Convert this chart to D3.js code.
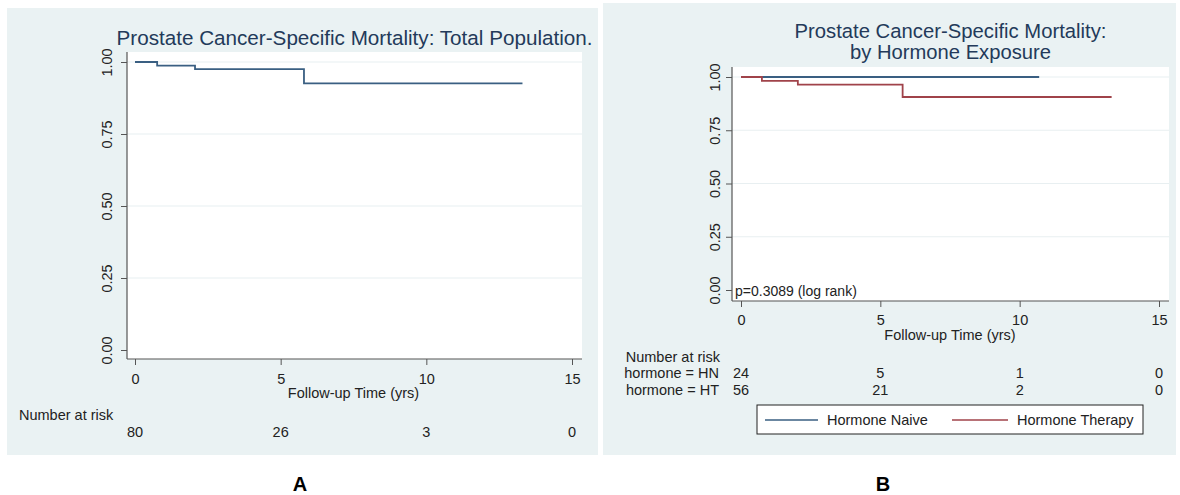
<!DOCTYPE html>
<html><head><meta charset="utf-8">
<script src="https://cdn.jsdelivr.net/npm/d3@7"></script>
<style>
html,body{margin:0;padding:0;background:#fff;}
svg{display:block;font-family:"Liberation Sans",Arial,sans-serif;}
</style></head>
<body>
<svg id="chart" width="1180" height="495"></svg>
<script>
// ---- data ----
const timeTicks = [0, 5, 10, 15];
const survTicks = [0, 0.25, 0.5, 0.75, 1];
const totalTimes = [0, 0.76, 2.06, 5.8, 13.3];
const totalSurv  = [1, 0.9875, 0.975, 0.926, 0.926];
const hnTimes = [0, 10.7];
const hnSurv  = [1, 1];
const htTimes = [0, 0.75, 2.04, 5.8, 13.3];
const htSurv  = [1, 0.982, 0.964, 0.906, 0.906];
const riskTotal = [80, 26, 3, 0];
const riskHN = [24, 5, 1, 0];
const riskHT = [56, 21, 2, 0];
const groupNames = ["Hormone Naive", "Hormone Therapy"];
const riskLabels = ["hormone = HN", "hormone = HT"];
const pText = "p=0.3089 (log rank)";

const svg = d3.select("#chart");
const BG = "#eaf2f3", GRID = "#e8eff1", AXIS = "#555", TXT = "#222";
const TITLE = "#233a5a", BLUE = "#3a5f82", RED = "#a0434a";

function panel(o) {
  const g = svg.append("g");
  g.append("rect").attr("x", o.bg[0]).attr("y", o.bg[1]).attr("width", o.bg[2]).attr("height", o.bg[3]).attr("fill", BG);
  const x = d3.scaleLinear().domain([0, 15]).range(o.xr);
  const y = d3.scaleLinear().domain([0, 1]).range(o.yr);
  const [L, T, R, B] = o.plot;
  g.append("rect").attr("x", L).attr("y", T).attr("width", R - L).attr("height", B - T).attr("fill", "#fff");
  // grid
  g.selectAll(".grid").data(survTicks.filter(d => d > 0)).join("line")
    .attr("x1", L).attr("x2", R).attr("y1", d => y(d)).attr("y2", d => y(d))
    .attr("stroke", GRID).attr("stroke-width", 1.2);
  // y axis
  const ya = g.append("g").attr("transform", `translate(${L},0)`)
    .call(d3.axisLeft(y).tickValues(survTicks).tickFormat(d3.format(".2f")).tickSize(6).tickSizeOuter(0));
  ya.select(".domain").remove();
  ya.selectAll(".tick line").attr("stroke", AXIS);
  ya.selectAll(".tick text").attr("font-size", 14.5).attr("fill", TXT)
    .attr("x", 0).attr("dy", 0).attr("text-anchor", "middle")
    .attr("transform", `translate(${-o.ylabOff},0) rotate(-90)`).attr("dominant-baseline", "central");
  g.append("line").attr("x1", L).attr("x2", L).attr("y1", T).attr("y2", B).attr("stroke", AXIS).attr("stroke-width", 1.2);
  // x axis
  const xa = g.append("g").attr("transform", `translate(0,${B})`)
    .call(d3.axisBottom(x).tickValues(timeTicks).tickSize(6).tickSizeOuter(0));
  xa.select(".domain").remove();
  xa.selectAll(".tick line").attr("stroke", AXIS);
  xa.selectAll(".tick text").attr("font-size", 14.5).attr("fill", TXT).attr("y", o.xlabY - B).attr("dy", 0);
  g.append("line").attr("x1", L).attr("x2", R).attr("y1", B).attr("y2", B).attr("stroke", AXIS).attr("stroke-width", 1.2);
  g.append("text").attr("x", (x(0) + x(15)) / 2).attr("y", o.xtitleY).attr("text-anchor", "middle")
    .attr("font-size", 14.5).attr("fill", TXT).text("Follow-up Time (yrs)");
  // title
  o.title.forEach((t, i) => {
    g.append("text").attr("x", (L + R) / 2).attr("y", o.titleY[i]).attr("text-anchor", "middle")
      .attr("font-size", 20.5).attr("fill", TITLE)
      .attr("textLength", o.titleW[i]).attr("lengthAdjust", "spacingAndGlyphs").text(t);
  });
  // curves
  const line = d3.line().x(d => x(d[0])).y(d => y(d[1])).curve(d3.curveStepAfter);
  o.series.forEach(s => {
    g.append("path").datum(d3.zip(s.t, s.v)).attr("d", line)
      .attr("fill", "none").attr("stroke", s.c).attr("stroke-width", 1.8);
  });
  return {g, x, y};
}

// Panel A
const A = panel({
  bg: [7, 8, 591, 447], xr: [135, 572], yr: [350, 62], plot: [127, 52, 582, 359],
  ylabOff: 20, xlabY: 384, xtitleY: 398,
  title: ["Prostate Cancer-Specific Mortality: Total Population."], titleY: [45], titleW: [476],
  series: [{t: totalTimes, v: totalSurv, c: BLUE}]
});
A.g.append("text").attr("x", 19).attr("y", 420).attr("font-size", 14.5).attr("fill", TXT).text("Number at risk");
A.g.selectAll(".riskA").data(riskTotal).join("text")
  .attr("x", (d, i) => A.x(timeTicks[i])).attr("y", 437).attr("text-anchor", "middle")
  .attr("font-size", 14.5).attr("fill", TXT).text(d => d);

// Panel B
const Bp = panel({
  bg: [603, 3, 573, 452], xr: [741, 1159], yr: [290, 77], plot: [732, 67, 1169, 301],
  ylabOff: 17, xlabY: 325, xtitleY: 340,
  title: ["Prostate Cancer-Specific Mortality:", "by Hormone Exposure"], titleY: [38, 59], titleW: [312, 201],
  series: [{t: hnTimes, v: hnSurv, c: BLUE}, {t: htTimes, v: htSurv, c: RED}]
});
Bp.g.append("text").attr("x", 735).attr("y", 296).attr("font-size", 14).attr("fill", TXT).text(pText);
Bp.g.append("text").attr("x", 720).attr("y", 362).attr("text-anchor", "end").attr("font-size", 14.5).attr("fill", TXT).text("Number at risk");
[riskHN, riskHT].forEach((arr, r) => {
  const yy = [378, 395][r];
  Bp.g.append("text").attr("x", 719).attr("y", yy).attr("text-anchor", "end").attr("font-size", 14.5).attr("fill", TXT).text(riskLabels[r]);
  Bp.g.selectAll(".riskB" + r).data(arr).join("text")
    .attr("x", (d, i) => Bp.x(timeTicks[i])).attr("y", yy).attr("text-anchor", "middle")
    .attr("font-size", 14.5).attr("fill", TXT).text(d => d);
});
// legend
const lg = Bp.g.append("g");
lg.append("rect").attr("x", 757).attr("y", 405).attr("width", 386).attr("height", 29)
  .attr("fill", "#fff").attr("stroke", "#222").attr("stroke-width", 1);
[[765, 818, 827, BLUE], [952, 1008, 1017, RED]].forEach((p, i) => {
  lg.append("line").attr("x1", p[0]).attr("x2", p[1]).attr("y1", 420).attr("y2", 420).attr("stroke", p[3]).attr("stroke-width", 1.5);
  lg.append("text").attr("x", p[2]).attr("y", 425).attr("font-size", 14.5).attr("fill", TXT).text(groupNames[i]);
});

// panel letters
svg.append("text").attr("x", 300).attr("y", 491).attr("text-anchor", "middle").attr("font-size", 20).attr("font-weight", "bold").text("A");
svg.append("text").attr("x", 883).attr("y", 491).attr("text-anchor", "middle").attr("font-size", 20).attr("font-weight", "bold").text("B");
</script>
</body></html>
